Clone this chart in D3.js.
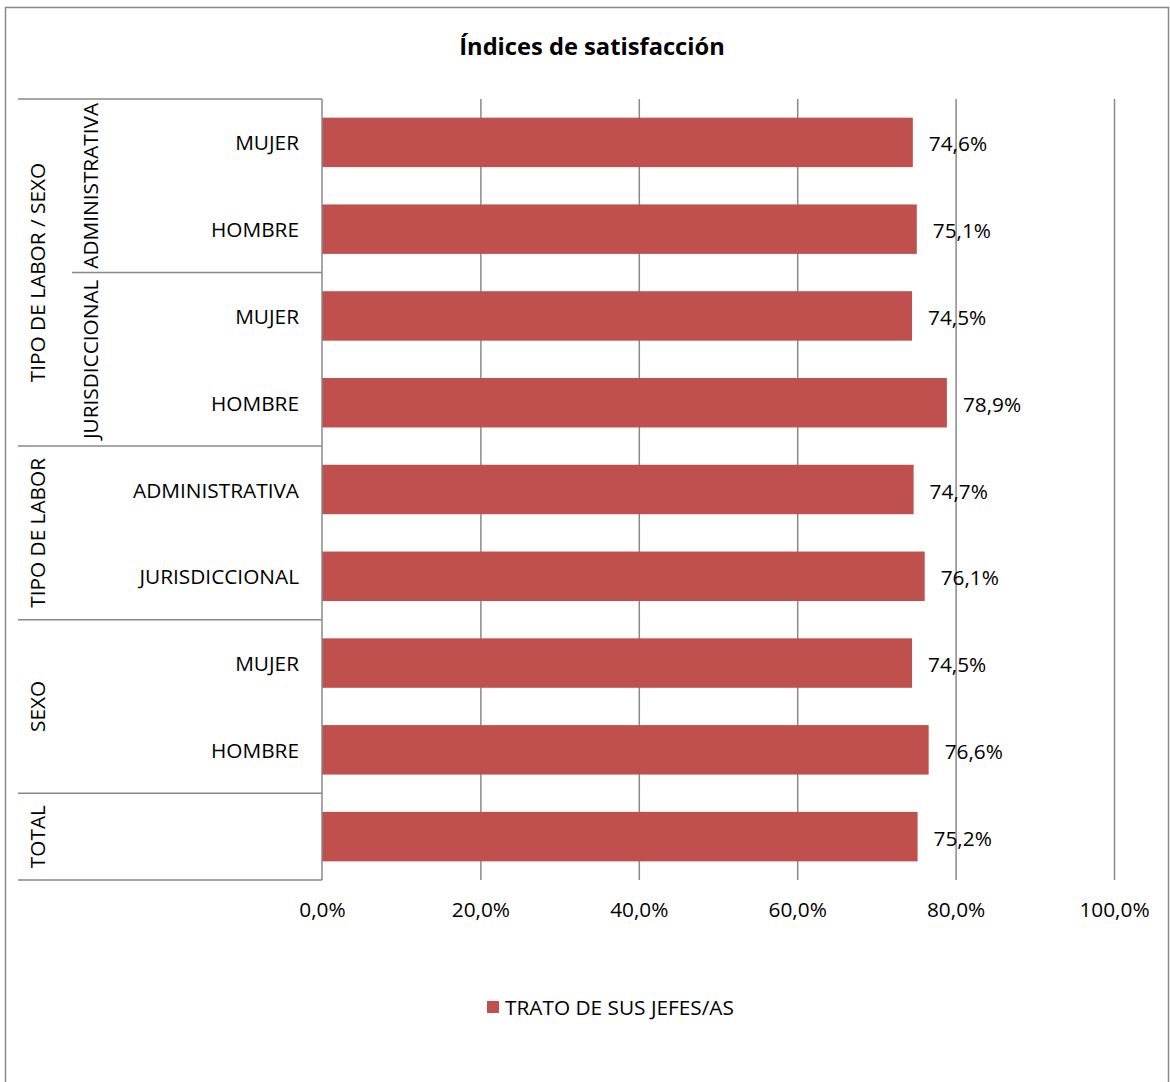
<!DOCTYPE html>
<html>
<head>
<meta charset="utf-8">
<script src="https://cdn.jsdelivr.net/npm/d3@7"></script>
<style>
body { margin: 0; background: #fff; }
text { font-family: "Open Sans", Lato, sans-serif; fill: #000; }
</style>
</head>
<body>
<div id="chart"></div>
<script>
var outerLabels = ["TIPO DE LABOR / SEXO", "TIPO DE LABOR / SEXO", "TIPO DE LABOR / SEXO", "TIPO DE LABOR / SEXO",
                   "TIPO DE LABOR", "TIPO DE LABOR", "SEXO", "SEXO", "TOTAL"]
var midLabels = ["ADMINISTRATIVA", "ADMINISTRATIVA", "JURISDICCIONAL", "JURISDICCIONAL", "", "", "", "", ""]
var innerLabels = ["MUJER", "HOMBRE", "MUJER", "HOMBRE", "ADMINISTRATIVA", "JURISDICCIONAL", "MUJER", "HOMBRE", ""]
var values = [0.746, 0.751, 0.745, 0.789, 0.747, 0.761, 0.745, 0.766, 0.752]
var ticks = [0, 0.2, 0.4, 0.6, 0.8, 1.0]
var seriesName = "TRATO DE SUS JEFES/AS"
var title = "Índices de satisfacción"

var W = 1170, H = 1082
var pLeft = 322, pRight = 1114, pTop = 99, pBottom = 880
var barColor = "#C0504D", lineColor = "#898989"
var fs = "20.8px"

var locale = d3.formatLocale({decimal: ",", thousands: ".", grouping: [3], currency: ["", "€"], percent: "%"})
var pct = locale.format(".1%")

var svg = d3.select("#chart").append("svg").attr("width", W).attr("height", H)

// outer frame
svg.append("rect").attr("x", 5.5).attr("y", 7.5).attr("width", 1163).attr("height", 1090)
    .attr("fill", "none").attr("stroke", lineColor).attr("stroke-width", 1.5)

svg.append("text").attr("x", 592).attr("y", 46).attr("text-anchor", "middle")
    .attr("dominant-baseline", "central").style("font-size", "23.7px").style("font-weight", "bold")
    .text(title)

var idx = d3.range(values.length)
var x = d3.scaleLinear().domain([0, 1]).range([pLeft, pRight])
var y = d3.scaleBand().domain(idx).range([pTop, pBottom]).paddingInner(0.43).paddingOuter(0.215)
var band = (pBottom - pTop) / values.length

// gridlines
svg.append("g").attr("transform", "translate(0," + pBottom + ")")
    .call(d3.axisBottom(x).tickValues(ticks.slice(1)).tickSize(-(pBottom - pTop)).tickFormat(""))
    .call(function(g){ g.select(".domain").remove() })
    .selectAll("line").attr("stroke", lineColor).attr("stroke-width", 1.5)

// tick labels
svg.append("g").attr("transform", "translate(0," + pBottom + ")")
    .call(d3.axisBottom(x).tickValues(ticks).tickSize(0).tickPadding(22).tickFormat(pct))
    .call(function(g){ g.select(".domain").remove() })
    .selectAll("text").style("font-size", fs).style("font-family", "'Open Sans', sans-serif").attr("fill", "#000")

// bars
svg.selectAll(".bar").data(values).enter().append("rect").attr("class", "bar")
    .attr("x", x(0)).attr("y", function(d, i){ return y(i) })
    .attr("width", function(d){ return x(d) - x(0) }).attr("height", y.bandwidth())
    .attr("fill", barColor)

// value labels
svg.selectAll(".val").data(values).enter().append("text").attr("class", "val")
    .attr("x", function(d){ return x(d) + 16 }).attr("y", function(d, i){ return y(i) + y.bandwidth() / 2 + 1 })
    .attr("dominant-baseline", "central").style("font-size", fs)
    .text(function(d){ return pct(d) })

// category axis line
svg.append("line").attr("x1", pLeft).attr("x2", pLeft).attr("y1", pTop).attr("y2", pBottom)
    .attr("stroke", lineColor).attr("stroke-width", 1.5)

// inner labels
svg.selectAll(".inner").data(innerLabels).enter().append("text").attr("class", "inner")
    .attr("x", 299).attr("y", function(d, i){ return pTop + band * (i + 0.5) })
    .attr("text-anchor", "end").attr("dominant-baseline", "central").style("font-size", fs)
    .text(function(d){ return d })

// contiguous runs of a label array
function runs(arr){
    var out = []
    arr.forEach(function(d, i){
        if (out.length && out[out.length - 1].label === d) out[out.length - 1].end = i
        else out.push({label: d, start: i, end: i})
    })
    return out
}

var outerRuns = runs(outerLabels)
var midRuns = runs(midLabels).filter(function(r){ return r.label !== "" })

// outer separators
svg.selectAll(".osep").data([0].concat(outerRuns.map(function(r){ return r.end + 1 })))
    .enter().append("line").attr("class", "osep")
    .attr("x1", 18).attr("x2", pLeft)
    .attr("y1", function(d){ return pTop + band * d }).attr("y2", function(d){ return pTop + band * d })
    .attr("stroke", lineColor).attr("stroke-width", 1.5)

// mid separators (inside groups)
svg.selectAll(".msep").data(midRuns.slice(0, -1).map(function(r){ return r.end + 1 }))
    .enter().append("line").attr("class", "msep")
    .attr("x1", 72).attr("x2", pLeft)
    .attr("y1", function(d){ return pTop + band * d }).attr("y2", function(d){ return pTop + band * d })
    .attr("stroke", lineColor).attr("stroke-width", 1.5)

svg.selectAll(".outer").data(outerRuns).enter().append("text").attr("class", "outer")
    .attr("transform", function(r){ return "translate(37," + (pTop + band * (r.start + r.end + 1) / 2) + ")rotate(-90)" })
    .attr("text-anchor", "middle").attr("dominant-baseline", "central").style("font-size", fs)
    .text(function(r){ return r.label })

svg.selectAll(".mid").data(midRuns).enter().append("text").attr("class", "mid")
    .attr("transform", function(r){ return "translate(90," + (pTop + band * (r.start + r.end + 1) / 2) + ")rotate(-90)" })
    .attr("text-anchor", "middle").attr("dominant-baseline", "central").style("font-size", fs)
    .text(function(r){ return r.label })

// legend
var legend = svg.append("g").attr("transform", "translate(487,1001)")
legend.append("rect").attr("width", 12).attr("height", 12).attr("fill", barColor)
legend.append("text").attr("x", 18).attr("y", 6).attr("dominant-baseline", "central")
    .style("font-size", fs).text(seriesName)
</script>
</body>
</html>
